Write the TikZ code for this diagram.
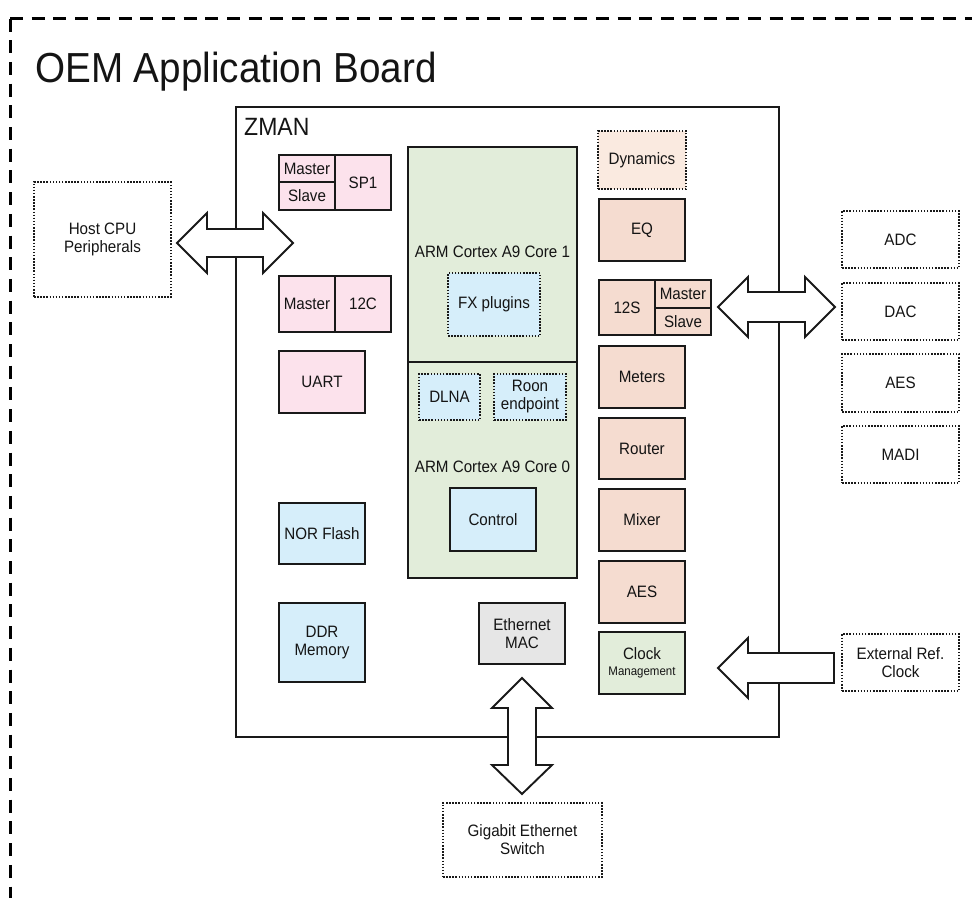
\documentclass[tikz,border=0pt]{standalone}
\usepackage{fontspec}
\setmainfont{Liberation Sans}[FakeStretch=0.92]
\begin{document}
\begin{tikzpicture}[x=1pt,y=-1pt,
  txt/.style={text=black!92},
  blk/.style={draw=black!90, line width=1.9pt, inner sep=0pt, outer sep=0pt, font=\fontsize{16.5}{18}\selectfont, align=center, txt},
  dot/.style={draw=black!90, line width=1.5pt, dash pattern=on 1.5pt off 1.6pt, inner sep=0pt, outer sep=0pt, font=\fontsize{16.5}{18}\selectfont, align=center, txt},
  barrow/.style={draw=black!90, line width=1.9pt, fill=white, line join=miter},
]
\definecolor{pinkc}{RGB}{252,226,236}
\definecolor{peachc}{RGB}{245,220,208}
\definecolor{peachl}{RGB}{250,234,224}
\definecolor{greenc}{RGB}{226,237,218}
\definecolor{bluec}{RGB}{214,238,250}
\definecolor{greyc}{RGB}{230,230,230}
\useasboundingbox (0,0) rectangle (972,898);
% outer dashed board border
\draw[line width=3pt, dash pattern=on 13pt off 8.7pt] (10,18.5) -- (972,18.5);
\draw[line width=3pt, dash pattern=on 13pt off 8.7pt] (10,18.5) -- (10,898);
\node[anchor=base west, inner sep=0pt, font=\fontsize{42}{46}\selectfont, txt] (title) at (35,82) {OEM Application Board};
% ZMAN
\node[draw=black!90, line width=2pt, minimum width=543, minimum height=630, inner sep=0pt] (zman) at (507.5,422) {};
\node[anchor=base west, inner sep=0pt, font=\fontsize{25}{28}\selectfont, txt] (zmanlbl) at (244,135) {ZMAN};
% left column
\node[blk, fill=pinkc, minimum width=56, minimum height=27] (spm) at (307,168.5) {Master};
\node[blk, fill=pinkc, minimum width=56, minimum height=28] (sps) at (307,196) {Slave};
\node[blk, fill=pinkc, minimum width=56, minimum height=55] (sp1) at (363,182.5) {SP1};
\node[blk, fill=pinkc, minimum width=56, minimum height=56] (i2cm) at (307,304) {Master};
\node[blk, fill=pinkc, minimum width=56, minimum height=56] (i2c) at (363,304) {12C};
\node[blk, fill=pinkc, minimum width=86, minimum height=62] (uart) at (322,382) {UART};
\node[blk, fill=bluec, minimum width=86, minimum height=61] (nor) at (322,533.5) {NOR Flash};
\node[blk, fill=bluec, minimum width=86, minimum height=79] (ddr) at (322,642.5) {DDR\\Memory};
% ARM cores
\node[blk, fill=greenc, minimum width=169, minimum height=215] (arm1) at (492.5,254.5) {};
\node[blk, fill=greenc, minimum width=169, minimum height=216] (arm0) at (492.5,470) {};
\node[txt, inner sep=0pt, font=\fontsize{16.5}{18}\selectfont] (arm1lbl) at (492.5,252) {ARM Cortex A9 Core 1};
\node[dot, fill=bluec, minimum width=92, minimum height=63] (fx) at (494,304.5) {FX plugins};
\node[dot, fill=bluec, minimum width=61, minimum height=46] (dlna) at (449.5,397) {DLNA};
\node[dot, fill=bluec, minimum width=72, minimum height=46] (roon) at (530,397) {Roon\\endpoint};
\node[txt, inner sep=0pt, font=\fontsize{16.5}{18}\selectfont] (arm0lbl) at (492.5,467) {ARM Cortex A9 Core 0};
\node[blk, fill=bluec, minimum width=86, minimum height=63] (ctrl) at (493,519.5) {Control};
\node[blk, fill=greyc, minimum width=86, minimum height=61] (emac) at (522,633.5) {Ethernet\\MAC};
% right column
\node[dot, fill=peachl, minimum width=88, minimum height=58] (dyn) at (642,160) {Dynamics};
\node[blk, fill=peachc, minimum width=86, minimum height=62] (eq) at (642,230) {EQ};
\node[blk, fill=peachc, minimum width=56, minimum height=55] (i2s) at (627,307.5) {12S};
\node[blk, fill=peachc, minimum width=56, minimum height=28] (i2sm) at (683,294) {Master};
\node[blk, fill=peachc, minimum width=56, minimum height=27] (i2ss) at (683,321.5) {Slave};
\node[blk, fill=peachc, minimum width=86, minimum height=62] (met) at (642,377) {Meters};
\node[blk, fill=peachc, minimum width=86, minimum height=61] (rout) at (642,448.5) {Router};
\node[blk, fill=peachc, minimum width=86, minimum height=62] (mix) at (642,520) {Mixer};
\node[blk, fill=peachc, minimum width=86, minimum height=62] (aes) at (642,592) {AES};
\node[blk, fill=greenc, minimum width=86, minimum height=62] (clk) at (642,663) {Clock\\[-2pt]{\fontsize{12.5}{13}\selectfont Management}};
% external
\node[dot, minimum width=137, minimum height=115] (host) at (102.5,239.5) {Host CPU\\Peripherals};
\node[dot, minimum width=117, minimum height=57] (adc) at (900.5,239.5) {ADC};
\node[dot, minimum width=117, minimum height=57] (dac) at (900.5,311.5) {DAC};
\node[dot, minimum width=117, minimum height=58] (aesx) at (900.5,383) {AES};
\node[dot, minimum width=117, minimum height=57] (madi) at (900.5,454.5) {MADI};
\node[dot, minimum width=117, minimum height=57] (xclk) at (900.5,662.5) {External Ref.\\Clock};
\node[dot, minimum width=159, minimum height=74] (gig) at (522.5,840) {Gigabit Ethernet\\Switch};
% block arrows
\draw[barrow] (177,243) -- (207,213) -- (207,229) -- (263,229) -- (263,213) -- (293,243)
  -- (263,273) -- (263,257) -- (207,257) -- (207,273) -- cycle;
\draw[barrow] (718,307) -- (748,277) -- (748,292) -- (805,292) -- (805,277) -- (835,307)
  -- (805,337) -- (805,322) -- (748,322) -- (748,337) -- cycle;
\draw[barrow] (718,668) -- (748,638) -- (748,653) -- (834,653) -- (834,683) -- (748,683)
  -- (748,698) -- cycle;
\draw[barrow] (522,678) -- (552,708) -- (536,708) -- (536,765) -- (552,765) -- (522,794)
  -- (492,765) -- (508,765) -- (508,708) -- (492,708) -- cycle;
\end{tikzpicture}
\end{document}
